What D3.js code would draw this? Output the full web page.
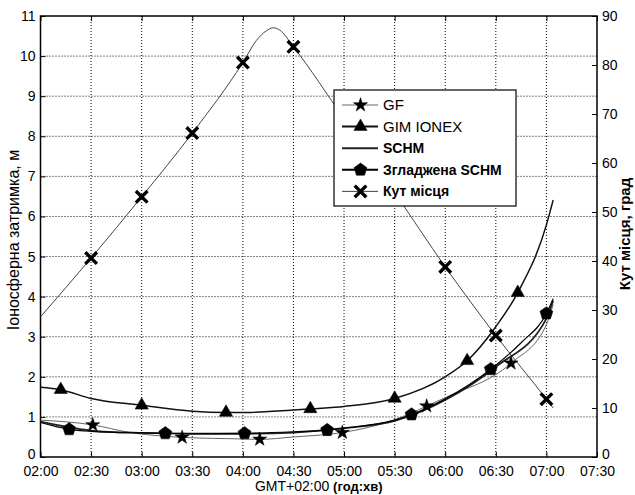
<!DOCTYPE html>
<html><head><meta charset="utf-8">
<script src="https://cdnjs.cloudflare.com/ajax/libs/d3/7.8.5/d3.min.js"></script>
<style>body{margin:0;background:#fff;} svg{display:block;font-family:"Liberation Sans",Arial,sans-serif;}</style>
</head><body><svg id="c" width="635" height="495"></svg>
<script>
// ---------- data ----------
const xTickLabels = ["02:00","02:30","03:00","03:30","04:00","04:30","05:00","05:30","06:00","06:30","07:00","07:30"];
const yLeftTicks = [0,1,2,3,4,5,6,7,8,9,10,11];
const yRightTicks = [0,10,20,30,40,50,60,70,80,90];

// elevation angle (deg, right axis)
const elevTime = ["02:00","02:30","03:00","03:30","04:00","04:08","04:14","04:18","04:22","04:30","05:00","05:30","06:00","06:30","07:00","07:04"];
const elevDeg  = [28.6,40.6,53.1,66.1,80.5,85.0,87.0,87.6,87.1,83.7,69.0,54.0,38.8,24.8,11.8,10.0];
const elevMarkTime = ["02:30","03:00","03:30","04:00","04:30","05:00","05:30","06:00","06:30","07:00"];
const elevMarkDeg  = [40.6,53.1,66.1,80.5,83.7,69.0,54.0,38.8,24.8,11.8];

// GIM IONEX (m)
const gimTime = ["02:00","02:12","02:30","03:00","03:30","03:50","04:00","04:30","04:40","05:00","05:30","06:00","06:13","06:30","06:43","07:00","07:04"];
const gimVal  = [1.74,1.68,1.46,1.29,1.14,1.11,1.11,1.17,1.20,1.26,1.46,2.00,2.40,3.25,4.10,5.79,6.41];
const gimMarkTime = ["02:12","03:00","03:50","04:40","05:30","06:13","06:43"];
const gimMarkVal  = [1.68,1.29,1.11,1.20,1.46,2.40,4.10];

// GF (m)
const gfTime = ["02:00","02:31","02:52","03:24","04:00","04:10","04:30","04:59","05:30","05:49","06:00","06:39","07:00","07:04"];
const gfVal  = [0.92,0.80,0.62,0.49,0.45,0.44,0.50,0.61,0.93,1.27,1.48,2.34,3.30,3.80];
const gfMarkTime = ["02:31","03:24","04:10","04:59","05:49","06:39"];
const gfMarkVal  = [0.80,0.49,0.44,0.61,1.27,2.34];

// SCHM (m)
const schmTime = ["02:00","02:30","03:00","03:30","04:00","04:30","05:00","05:30","06:00","06:30","07:00","07:04"];
const schmVal  = [0.88,0.66,0.60,0.58,0.58,0.61,0.72,0.90,1.42,2.25,3.45,3.90];

// Smoothed SCHM (m)
const smTime = ["02:00","02:17","02:30","03:00","03:14","03:30","04:00","04:30","04:50","05:00","05:30","05:40","06:00","06:27","06:45","07:00","07:04"];
const smVal  = [0.86,0.69,0.64,0.60,0.59,0.58,0.59,0.63,0.67,0.72,0.92,1.06,1.45,2.19,2.85,3.58,3.95];
const smMarkTime = ["02:17","03:14","04:01","04:50","05:40","06:27","07:00"];
const smMarkVal  = [0.69,0.59,0.59,0.67,1.06,2.19,3.58];

const legendLabels = ["GF","GIM IONEX","SCHM","Згладжена SCHM","Кут місця"];

// ---------- chart ----------
const svg = d3.select("#c");
const M = {left:40.5, right:597, top:16, bottom:457};
const toMin = s => { const [h,m] = s.split(":").map(Number); return h*60+m; };
const x  = d3.scaleLinear().domain([toMin("02:00"), toMin("07:30")]).range([M.left, M.right]);
const yL = d3.scaleLinear().domain([0,11]).range([M.bottom, M.top]);
const yR = d3.scaleLinear().domain([0,90]).range([M.bottom, M.top]);

// grid
const grid = svg.append("g").attr("stroke","#000").attr("stroke-width",1).attr("stroke-dasharray","1,2");
xTickLabels.slice(1,-1).forEach(t => {
  grid.append("line").attr("x1",x(toMin(t))).attr("x2",x(toMin(t))).attr("y1",M.top).attr("y2",M.bottom);
});
yLeftTicks.slice(1,-1).forEach(v => {
  grid.append("line").attr("x1",M.left).attr("x2",M.right).attr("y1",yL(v)).attr("y2",yL(v));
});

// axes
const fs = "14px";
svg.append("g").attr("transform",`translate(0,${M.bottom})`)
  .call(d3.axisBottom(x).tickValues(xTickLabels.map(toMin)).tickFormat((d,i)=>xTickLabels[i]).tickSizeInner(-5).tickSizeOuter(0).tickPadding(9));
svg.append("g").attr("transform",`translate(0,${M.top})`)
  .call(d3.axisTop(x).tickValues(xTickLabels.map(toMin)).tickFormat("").tickSizeInner(-5).tickSizeOuter(0));
svg.append("g").attr("transform",`translate(${M.left},0)`)
  .call(d3.axisLeft(yL).tickValues(yLeftTicks).tickFormat(d3.format("d")).tickSizeInner(-5).tickSizeOuter(0).tickPadding(5));
svg.append("g").attr("transform",`translate(${M.right},0)`)
  .call(d3.axisRight(yR).tickValues(yRightTicks).tickFormat(d3.format("d")).tickSizeInner(-5).tickSizeOuter(0).tickPadding(5));
svg.selectAll(".domain").remove();
svg.selectAll(".tick text").attr("font-size",fs).attr("fill","#000").attr("font-family",'"Liberation Sans",Arial,sans-serif');
svg.selectAll(".tick line").attr("stroke","#000");
// lift the bottom "0" labels slightly, as in the reference
svg.selectAll(".tick text").filter(function(){ return this.textContent==="0"; }).attr("dy","0.1em");

// frame
svg.append("rect").attr("x",M.left).attr("y",M.top).attr("width",M.right-M.left).attr("height",M.bottom-M.top)
  .attr("fill","none").attr("stroke","#000").attr("stroke-width",1.5);

// lines
const lineL = d3.line().x(d=>x(toMin(d[0]))).y(d=>yL(d[1])).curve(d3.curveMonotoneX);
const lineR = d3.line().x(d=>x(toMin(d[0]))).y(d=>yR(d[1])).curve(d3.curveMonotoneX);
const zip = (a,b) => a.map((t,i)=>[t,b[i]]);

const plot = svg.append("g");
plot.append("path").datum(zip(elevTime,elevDeg)).attr("d",lineR).attr("fill","none").attr("stroke","#444").attr("stroke-width",1);
plot.append("path").datum(zip(gimTime,gimVal)).attr("d",lineL).attr("fill","none").attr("stroke","#111").attr("stroke-width",1.5);
plot.append("path").datum(zip(gfTime,gfVal)).attr("d",lineL).attr("fill","none").attr("stroke","#666").attr("stroke-width",1);
plot.append("path").datum(zip(schmTime,schmVal)).attr("d",lineL).attr("fill","none").attr("stroke","#222").attr("stroke-width",1.8);
plot.append("path").datum(zip(smTime,smVal)).attr("d",lineL).attr("fill","none").attr("stroke","#000").attr("stroke-width",1.2);

// marker shapes
const starPath = d3.symbol(d3.symbolStar, 62)();
const triPath = d3.symbol(d3.symbolTriangle, 76)();
const pentPath = (() => { const r=6.8; const pts=d3.range(5).map(i=>{const a=-Math.PI/2+i*2*Math.PI/5; return [r*Math.cos(a), r*Math.sin(a)];}); return "M"+pts.map(p=>p.join(",")).join("L")+"Z"; })();
const crossPath = "M-5.8,-5.8L5.8,5.8M-5.8,5.8L5.8,-5.8";

function markers(times, vals, scale, path, isCross){
  plot.append("g").selectAll("path").data(zip(times,vals)).join("path")
    .attr("transform",d=>`translate(${x(toMin(d[0]))},${scale(d[1])})`)
    .attr("d",path)
    .attr("fill", isCross ? "none" : "#000")
    .attr("stroke","#000").attr("stroke-width", isCross ? 3.4 : 0.5);
}
markers(elevMarkTime, elevMarkDeg, yR, crossPath, true);
markers(gimMarkTime, gimMarkVal, yL, triPath, false);
markers(gfMarkTime, gfMarkVal, yL, starPath, false);
markers(smMarkTime, smMarkVal, yL, pentPath, false);

// legend
const lg = svg.append("g").attr("transform","translate(334,90)");
lg.append("rect").attr("width",182).attr("height",116).attr("fill","#fff").attr("stroke","#000").attr("stroke-width",1.2);
const legStyles = [
  {stroke:"#666", w:1, m:starPath, bold:false},
  {stroke:"#111", w:2, m:triPath, bold:false},
  {stroke:"#222", w:2, m:null, bold:true},
  {stroke:"#000", w:2, m:pentPath, bold:true},
  {stroke:"#444", w:1, m:crossPath, cross:true, bold:true}
];
legendLabels.forEach((lab,i)=>{
  const yy = 15 + i*21.6;
  const s = legStyles[i];
  lg.append("line").attr("x1",8).attr("x2",44).attr("y1",yy).attr("y2",yy).attr("stroke",s.stroke).attr("stroke-width",s.w);
  if (s.m) lg.append("path").attr("d",s.m).attr("transform",`translate(26.5,${yy})`)
     .attr("fill",s.cross?"none":"#000").attr("stroke","#000").attr("stroke-width",s.cross?3.4:0.5);
  lg.append("text").attr("x",49).attr("y",yy).attr("dy","0.36em").attr("font-size", s.bold ? "14px" : "15px")
    .attr("font-weight",s.bold?"bold":"normal").text(lab);
});

// axis titles
svg.append("text").attr("transform","translate(19,240) rotate(-90)").attr("text-anchor","middle")
  .attr("font-size","16px").text("Іоносферна затримка, м");
svg.append("text").attr("transform","translate(630,234) rotate(-90)").attr("text-anchor","middle")
  .attr("font-size","15px").attr("font-weight","bold").text("Кут місця, град");
const xt = svg.append("text").attr("x",(M.left+M.right)/2).attr("y",491).attr("text-anchor","middle").attr("font-size","14px");
xt.append("tspan").text("GMT+02:00 ");
xt.append("tspan").attr("font-weight","bold").attr("font-size","13px").text("(год:хв)");
</script></body></html>
